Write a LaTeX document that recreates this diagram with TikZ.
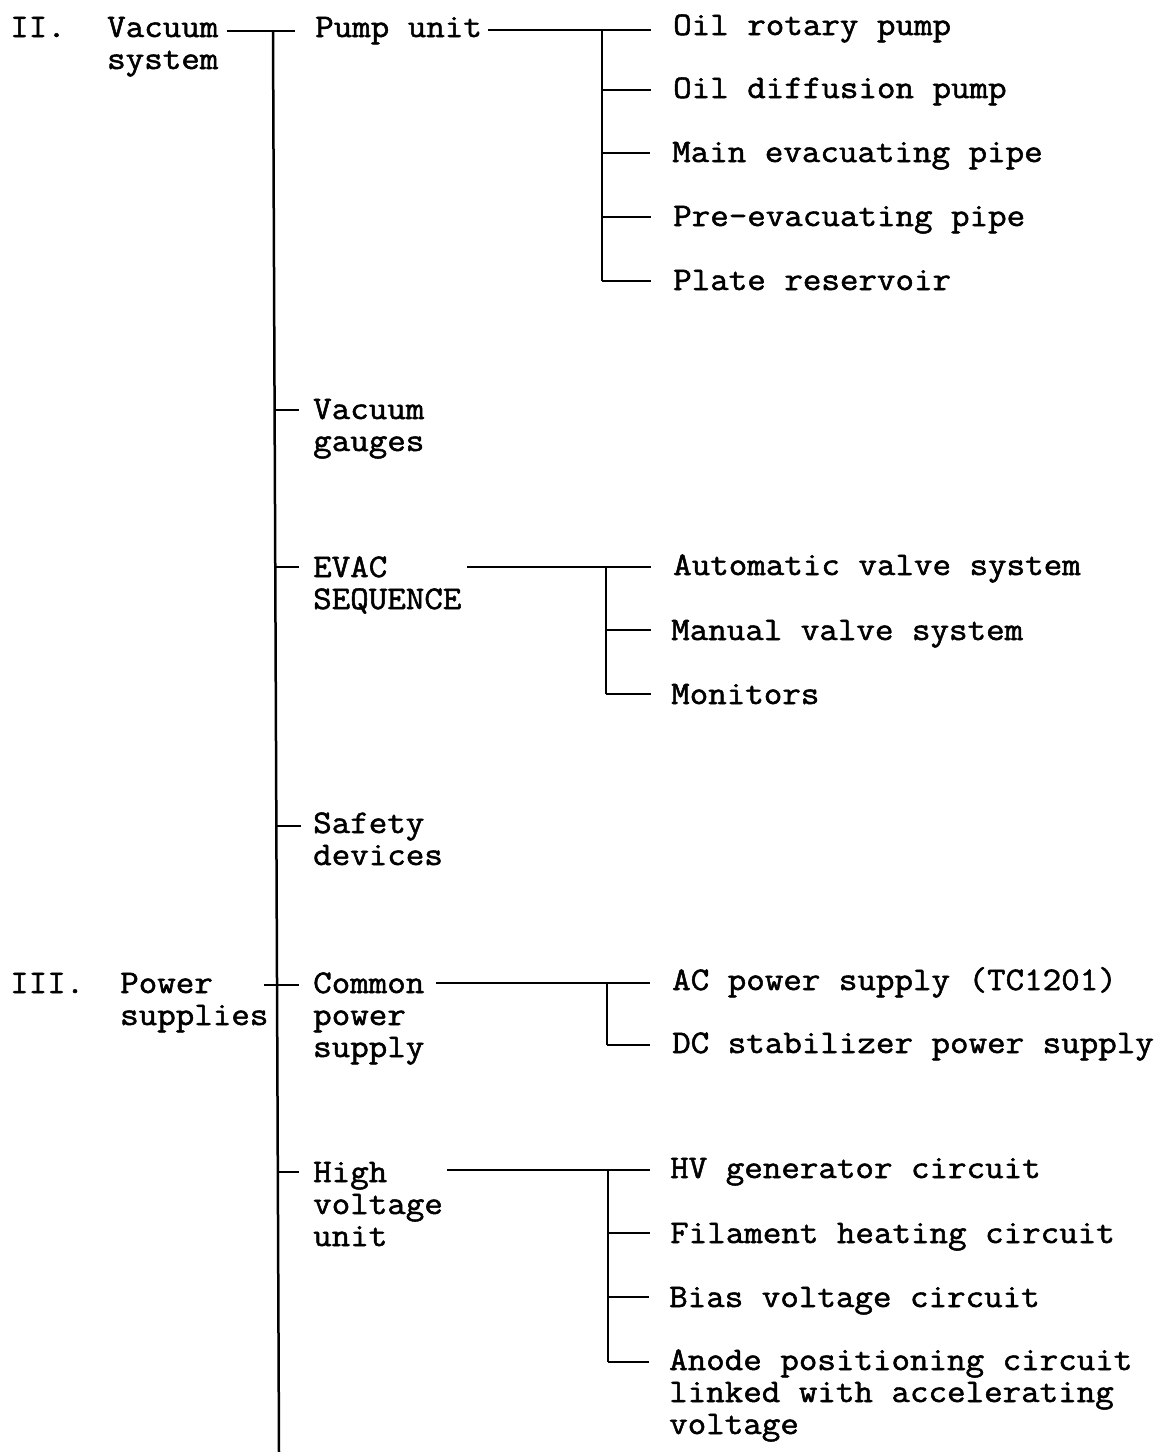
\documentclass[tikz,border=0pt]{standalone}
\usepackage{fontspec}
\newfontfamily\twfont[FakeStretch=1.09, FakeBold=1.6]{Latin Modern Mono}
\tikzset{
  txt/.style={anchor=base west, inner sep=0pt, align=left,
              font=\twfont\fontsize{33}{32}\selectfont},
  ln/.style={line width=2.5pt, line cap=butt},
}
\begin{document}
\begin{tikzpicture}[x=1pt,y=-1pt]
\useasboundingbox (0,0) rectangle (1167,1452);

% ---- level 0 (base anchor = last line) ----
\node[txt] (n2)   at (10,37)    {II.};
\node[txt] (vac)  at (107,69)   {Vacuum\\system};
\node[txt] (n3)   at (10,993)   {III.};
\node[txt] (pow)  at (120,1025) {Power\\supplies};

% ---- level 1 ----
\node[txt] (pump)  at (315,37)   {Pump unit};
\node[txt] (gaug)  at (313,451)  {Vacuum\\gauges};
\node[txt] (evac)  at (313,609)  {EVAC\\SEQUENCE};
\node[txt] (safe)  at (313,865)  {Safety\\devices};
\node[txt] (comm)  at (313,1057) {Common\\power\\supply};
\node[txt] (high)  at (313,1246) {High\\voltage\\unit};

% ---- level 2 ----
\node[txt] (p1) at (673,35)  {Oil rotary pump};
\node[txt] (p2) at (673,98)  {Oil diffusion pump};
\node[txt] (p3) at (672,162) {Main evacuating pipe};
\node[txt] (p4) at (673,226) {Pre-evacuating pipe};
\node[txt] (p5) at (673,290) {Plate reservoir};

\node[txt] (e1) at (673,575) {Automatic valve system};
\node[txt] (e2) at (671,640) {Manual valve system};
\node[txt] (e3) at (671,704) {Monitors};

\node[txt] (c1) at (672,990)  {AC power supply (TC1201)};
\node[txt] (c2) at (672,1053) {DC stabilizer power supply};

\node[txt] (h1) at (670,1178) {HV generator circuit};
\node[txt] (h2) at (670,1243) {Filament heating circuit};
\node[txt] (h3) at (669,1307) {Bias voltage circuit};
\node[txt] (h4) at (669,1434) {Anode positioning circuit\\linked with accelerating\\voltage};

% ---- main trunk ----
\coordinate (ttop) at (273,31);
\coordinate (tbot) at (279,1452);
\draw[ln] ([xshift=8pt]vac.east |- ttop) -- (295,31);
\draw[ln] (ttop) -- (tbot);

% stubs from trunk
\coordinate (jg) at (274.6,410);
\coordinate (je) at (275.3,567);
\coordinate (js) at (276.4,826);
\coordinate (jc) at (277,985);
\coordinate (jh) at (277.8,1172);
\draw[ln, shorten >=14pt] (jg) -- (jg -| gaug.west);
\draw[ln, shorten >=14pt] (je) -- (je -| evac.west);
\draw[ln, shorten >=12pt] (js) -- (js -| safe.west);
\draw[ln, shorten >=14pt] (264,985) -- (jc -| comm.west);
\draw[ln, shorten >=14pt] (jh) -- (jh -| high.west);

% ---- pump unit branch ----
\coordinate (bp) at (602,30);
\draw[ln] ([xshift=6pt]pump.east |- bp) -- (bp) -- ([xshift=-22pt]bp -| p1.west);
\draw[ln] (bp) -- (602,281);
\foreach \n/\y in {p2/90, p3/153, p4/217, p5/281}
  \draw[ln, shorten >=22pt] (602,\y) -- (\n.west |- 0,\y);

% ---- evac branch ----
\coordinate (be) at (606,567);
\draw[ln] (467,567) -- (be) -- ([xshift=-22pt]be -| e1.west);
\draw[ln] (be) -- (606,694);
\foreach \n/\y in {e2/630, e3/694}
  \draw[ln, shorten >=20pt] (606,\y) -- (\n.west |- 0,\y);

% ---- common power branch ----
\coordinate (bc) at (607,983);
\draw[ln] (436,983) -- (bc) -- ([xshift=-22pt]bc -| c1.west);
\draw[ln] (bc) -- (607,1045);
\draw[ln, shorten >=22pt] (607,1045) -- (c2.west |- 0,1045);

% ---- high voltage branch ----
\coordinate (bh) at (608,1170);
\draw[ln] (447,1170) -- (bh) -- ([xshift=-20pt]bh -| h1.west);
\draw[ln] (bh) -- (608,1362);
\foreach \n/\y in {h2/1233, h3/1297, h4/1362}
  \draw[ln, shorten >=20pt] (608,\y) -- (\n.west |- 0,\y);
\end{tikzpicture}
\end{document}
